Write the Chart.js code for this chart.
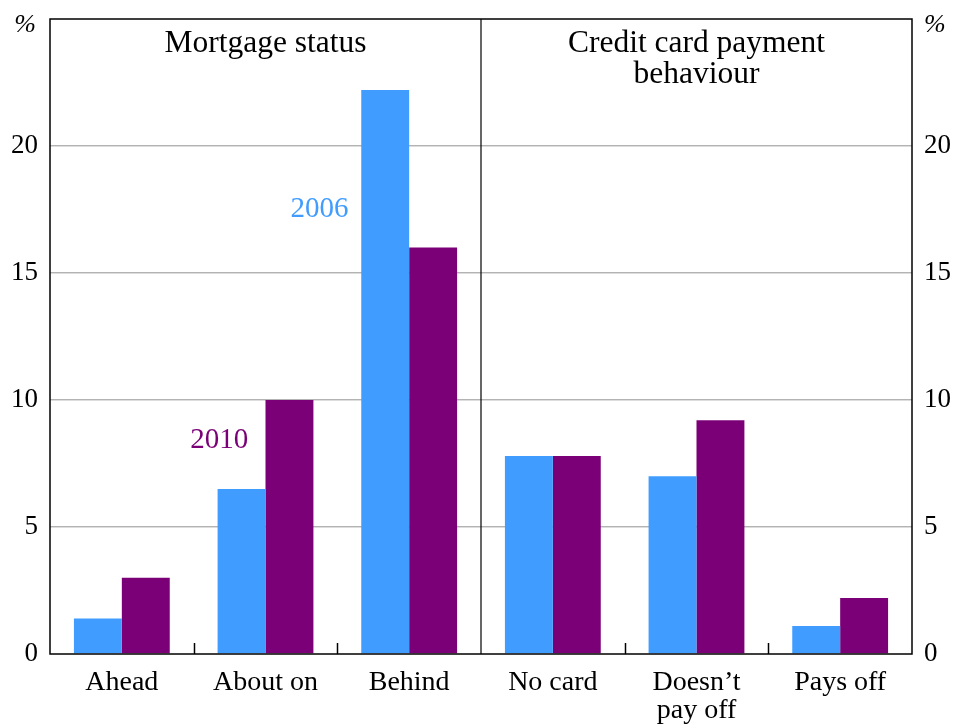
<!DOCTYPE html>
<html>
<head>
<meta charset="utf-8">
<script src="https://cdn.jsdelivr.net/npm/chart.js@4"></script>
<style>
  html, body { margin: 0; padding: 0; background: #fff; }
  #wrap { width: 954px; height: 724px; }
</style>
</head>
<body>
<div id="wrap"><canvas id="chart" width="954" height="724"></canvas></div>
<script>
// Data
const categories = ['Ahead', 'About on', 'Behind', 'No card', ['Doesn\u2019t', 'pay off'], 'Pays off'];
const series2006 = [1.4, 6.5, 22.2, 7.8, 7.0, 1.1];
const series2010 = [3.0, 10.0, 16.0, 7.8, 9.2, 2.2];
const yTicks = [0, 5, 10, 15, 20, 25];
const panelTitles = [['Mortgage status'], ['Credit card payment', 'behaviour']];

const BLUE = '#409cff';
const PURPLE = '#7b0077';
const FONT = '"Liberation Serif", "Times New Roman", serif';

// Frame, divider, category ticks, panel titles, unit marks and series labels
const decorations = {
    id: 'decorations',
    afterDatasetsDraw(chart) {
        const { ctx, chartArea: a, scales } = chart;
        const x = scales.x;
        const y = scales.y;
        const step = x.getPixelForValue(1) - x.getPixelForValue(0);
        ctx.save();
        ctx.strokeStyle = '#000';
        ctx.lineWidth = 1.5;
        ctx.strokeRect(a.left, a.top, a.right - a.left, a.bottom - a.top);

        // panel divider
        const mid = x.getPixelForValue(2) + step / 2;
        ctx.lineWidth = 1.2;
        ctx.beginPath();
        ctx.moveTo(mid, a.top);
        ctx.lineTo(mid, a.bottom);
        ctx.stroke();

        // inner category ticks
        ctx.lineWidth = 1.5;
        [0, 1, 3, 4].forEach(i => {
            const px = Math.round(x.getPixelForValue(i) + step / 2) + 0.5;
            ctx.beginPath();
            ctx.moveTo(px, a.bottom);
            ctx.lineTo(px, a.bottom - 11);
            ctx.stroke();
        });

        ctx.fillStyle = '#000';
        ctx.textBaseline = 'middle';

        // unit marks
        ctx.font = 'italic 26px ' + FONT;
        ctx.textAlign = 'right';
        ctx.fillText('%', a.left - 14, a.top + 6);
        ctx.textAlign = 'left';
        ctx.fillText('%', a.right + 12, a.top + 6);

        // panel titles
        ctx.font = '31.5px ' + FONT;
        ctx.textAlign = 'center';
        const centres = [(a.left + mid) / 2, (mid + a.right) / 2];
        panelTitles.forEach((lines, p) => {
            lines.forEach((t, k) => ctx.fillText(t, centres[p], a.top + 25 + k * 31));
        });

        // series labels
        ctx.font = '29px ' + FONT;
        ctx.textAlign = 'right';
        ctx.fillStyle = BLUE;
        ctx.fillText('2006', x.getPixelForValue(1.578), y.getPixelForValue(17.5));
        ctx.fillStyle = PURPLE;
        ctx.fillText('2010', x.getPixelForValue(0.88), y.getPixelForValue(8.4));
        ctx.restore();
    }
};

const yAxis = (position, width) => ({
    position: position,
    min: 0,
    max: 25,
    afterBuildTicks: scale => { scale.ticks = yTicks.map(v => ({ value: v })); },
    afterFit: scale => {
        scale.width = width;
        scale.paddingTop = 0;
        scale.paddingBottom = 0;
    },
    ticks: {
        color: '#000',
        padding: 12,
        font: { family: FONT, size: 27 },
        callback: v => (v === 25 ? '' : v)
    },
    grid: {
        drawTicks: false,
        color: ctx => (ctx.tick && (ctx.tick.value === 0 || ctx.tick.value === 25) ? 'rgba(0,0,0,0)' : '#b3b3b3'),
        lineWidth: 1.3
    },
    border: { display: false }
});

new Chart(document.getElementById('chart').getContext('2d'), {
    type: 'bar',
    data: {
        labels: categories,
        datasets: [
            { label: '2006', data: series2006, backgroundColor: BLUE },
            { label: '2010', data: series2010, backgroundColor: PURPLE }
        ]
    },
    options: {
        responsive: false,
        animation: false,
        devicePixelRatio: 1,
        layout: { padding: { top: 19, left: 0, right: 0, bottom: 0 } },
        datasets: { bar: { categoryPercentage: 0.667, barPercentage: 1.0, borderWidth: 0 } },
        plugins: { legend: { display: false }, tooltip: { enabled: false } },
        scales: {
            x: {
                afterFit: scale => {
                    scale.height = 70;
                    scale.paddingLeft = 0;
                    scale.paddingRight = 0;
                },
                ticks: {
                    color: '#000',
                    padding: 6,
                    maxRotation: 0,
                    autoSkip: false,
                    font: { family: FONT, size: 28, lineHeight: 1.02 }
                },
                grid: { display: false },
                border: { display: false }
            },
            y: yAxis('left', 50),
            y2: yAxis('right', 42)
        }
    },
    plugins: [decorations]
});
</script>
</body>
</html>
